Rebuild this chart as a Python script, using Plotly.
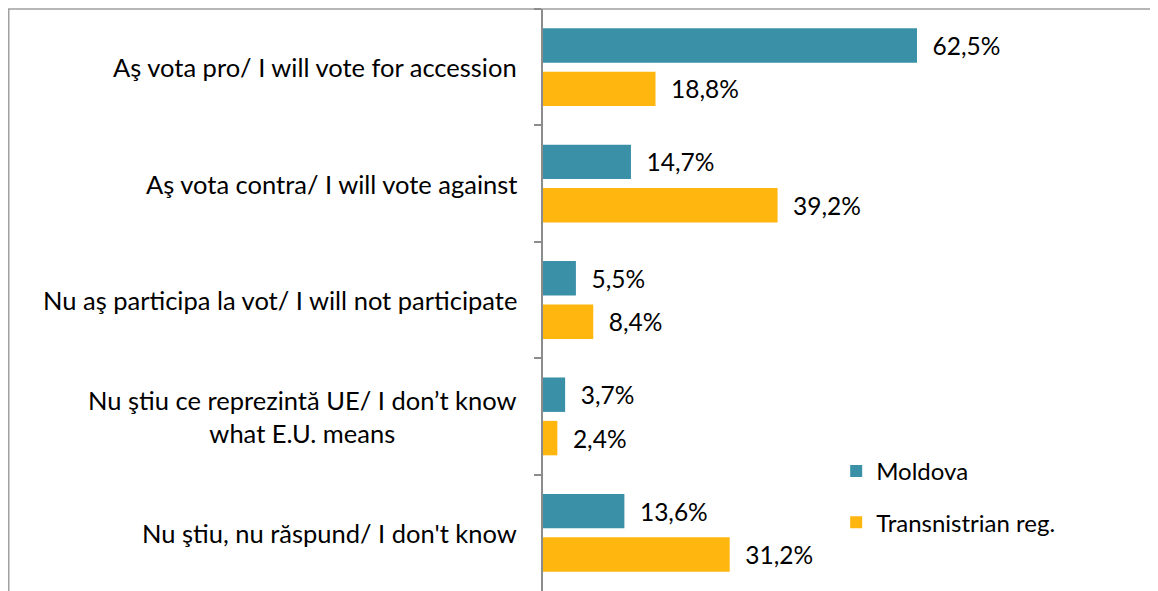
import plotly.graph_objects as go

# dados
categorias = [
    "Aş vota pro/ I will vote for accession",
    "Aş vota contra/ I will vote against",
    "Nu aş participa la vot/ I will not participate",
    "Nu ştiu ce reprezintă UE/ I don’t know<br>what E.U. means",
    "Nu ştiu, nu răspund/ I don't know",
]
moldova = [62.5, 14.7, 5.5, 3.7, 13.6]
transnistria = [18.8, 39.2, 8.4, 2.4, 31.2]
series_nomes = ["Moldova", "Transnistrian reg."]

TEAL = "#3A90A7"
ORANGE = "#FFB60F"
AXIS = "#8C8C8C"
FONT = "Lato, 'Open Sans', sans-serif"
FS = 24

# a página tem margem de 8px no body, então tudo é deslocado 8px
W, H = 1158, 591
L, R, T, B = 535, 16, 1, 8
PX_PER_PCT = (917 - 543) / 62.5
XMAX = (W - L - R) / PX_PER_PCT


def _rotulo(v):
    return "\u00a0\u00a0" + f"{v:.1f}".replace(".", ",") + "%"


fig = go.Figure()
for nome, valores, cor in [(series_nomes[0], moldova, TEAL), (series_nomes[1], transnistria, ORANGE)]:
    fig.add_bar(
        y=categorias, x=valores, name=nome, orientation="h",
        marker=dict(color=cor, line=dict(width=0)),
        text=[_rotulo(v) for v in valores], textposition="outside",
        textfont=dict(color="#000000", size=24.5, family=FONT),
        constraintext="none", cliponaxis=False,
        legendgroup=nome,
    )

# rótulos das categorias (centralizados, como no original)
for c in categorias:
    fig.add_annotation(
        x=0, y=c, xref="paper", yref="y", text=c, showarrow=False,
        xanchor="right", yanchor="middle", align="center", xshift=-24,
        font=dict(color="#000000", size=25.5, family=FONT),
    )

# moldura do gráfico
fig.add_shape(
    type="rect", xref="paper", yref="paper",
    x0=(0.75 - L) / (W - L - R), x1=1.2, y0=-0.2, y1=1,
    line=dict(color="#A0A0A0", width=1.5), layer="below",
)

fig.update_layout(
    width=W, height=H,
    margin=dict(l=L, r=R, t=T, b=B),
    paper_bgcolor="white", plot_bgcolor="white",
    barmode="group", bargap=0.254, bargroupgap=0.207,
    font=dict(family=FONT, size=FS, color="#000000"),
    xaxis=dict(range=[0, XMAX], visible=False, fixedrange=True),
    yaxis=dict(
        autorange="reversed", showticklabels=False, showgrid=False, zeroline=False,
        showline=True, linecolor=AXIS, linewidth=1.5,
        ticks="outside", tickson="boundaries", ticklen=7, tickcolor=AXIS, tickwidth=1.5,
    ),
    legend=dict(
        x=0.483, y=0.244, xanchor="left", yanchor="top",
        traceorder="grouped", tracegroupgap=17,
        font=dict(size=FS, family=FONT, color="#000000"),
        bgcolor="rgba(0,0,0,0)",
    ),
    showlegend=True,
)

fig.write_html("out.html")
